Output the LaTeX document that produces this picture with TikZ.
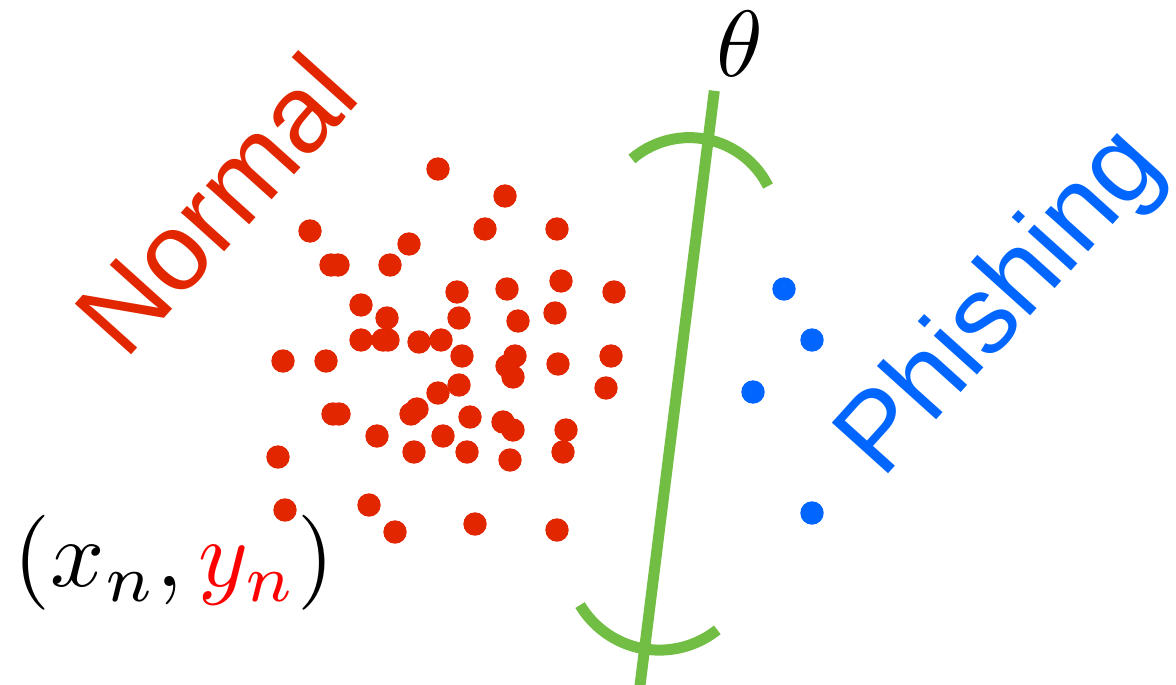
\documentclass[tikz,border=0pt]{standalone}
\usepackage{fontspec}
\newfontfamily\labfont{Liberation Sans}
\definecolor{dotred}{RGB}{226,38,0}
\definecolor{dotblue}{RGB}{0,102,255}
\definecolor{linegreen}{RGB}{114,190,68}
\begin{document}
\begin{tikzpicture}[x=1pt,y=-1pt,
  reddot/.style={fill=dotred},
  bluedot/.style={fill=dotblue},
  boundary/.style={draw=linegreen,line width=11pt},
  classlabel/.style={font=\labfont\fontsize{110}{120}\selectfont,inner sep=0pt,rotate=48,anchor=base west}]
\useasboundingbox (0,0) rectangle (1176,685);
% red points
\foreach \p in {(438,169),(505,196),(310,231),(485,229),(557,229),(409,244),(331,265),(338,265),(390,265),
  (457,292),(507,289),(561,281),(614,292),(361,305),(387,318),(459,318),(518,321),(555,313),
  (361,340),(383,340),(388,340),(419,342),(441,340),(462,356),(515,356),(507,366),(513,377),
  (558,364),(611,356),(283,361),(326,361),(606,388),(459,385),(438,393),(333,414),(339,414),
  (411,414),(417,409),(470,417),(503,422),(513,430),(566,430),(377,436),(443,436),(278,457),
  (414,452),(467,452),(510,460),(563,452),(285,510),(369,505),(395,532),(475,524),(557,530)}
  \fill[reddot] \p circle[radius=11.7];
% blue points
\foreach \p in {(784,289),(812,340),(753,392),(812,513)}
  \fill[bluedot] \p circle[radius=11.7];
% decision boundary
\coordinate (top) at (714.3,90.8);
\coordinate (bot) at (638.8,695);
\draw[boundary] (top) -- (bot);
\draw[boundary] (689.4,225.6) ++(-130.8:88) arc[start angle=-130.8,end angle=-26.7,radius=88];
\draw[boundary] (659.5,557.5) ++(149.1:92.6) arc[start angle=149.1,end angle=51.4,radius=92.6];
% labels
\node[classlabel,text=dotred] (normal) at (125.6,362) {Normal};
\node[classlabel,text=dotblue] (phishing) at (882.6,480.6) {Phishing};
\node[scale=9.4,inner sep=0pt] (theta) at (740,44) {$\theta$};
\node[scale=9.5,inner sep=0pt] (pair) at (174,563) {$(x_n,\textcolor{red}{y_n})$};
\end{tikzpicture}
\end{document}
